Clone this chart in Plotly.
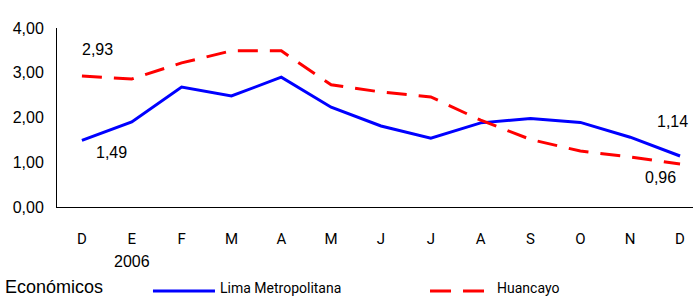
import plotly.graph_objects as go

months = ["D", "E", "F", "M", "A", "M", "J", "J", "A", "S", "O", "N", "D"]
year_label = "2006"
lima = [1.49, 1.90, 2.68, 2.48, 2.90, 2.23, 1.81, 1.54, 1.88, 1.98, 1.89, 1.56, 1.14]
huancayo = [2.93, 2.86, 3.22, 3.49, 3.49, 2.73, 2.57, 2.46, 1.94, 1.51, 1.25, 1.12, 0.96]
series_names = ["Lima Metropolitana", "Huancayo"]
y_ticks = [0, 1, 2, 3, 4]
caption = "Económicos"

x = list(range(len(months)))
ARIAL = "Liberation Sans, Arial, sans-serif"
NARROW = "Roboto, sans-serif"

fig = go.Figure()
fig.add_trace(go.Scatter(x=x, y=lima, mode="lines", name=series_names[0],
                         line=dict(color="#0000FF", width=3), showlegend=False))
fig.add_trace(go.Scatter(x=x, y=huancayo, mode="lines", name=series_names[1],
                         line=dict(color="#FF0000", width=3, dash="20px,12px"), showlegend=False))

def fmt(v):
    return f"{v:.2f}".replace(".", ",")

lab_font = dict(family=ARIAL, size=16, color="#000")
anns = [
    dict(x=x[0], y=huancayo[0], text=fmt(huancayo[0]), xshift=16, yshift=26),
    dict(x=x[0], y=lima[0], text=fmt(lima[0]), xshift=30, yshift=-12),
    dict(x=x[-1], y=lima[-1], text=fmt(lima[-1]), xshift=-8, yshift=34),
    dict(x=x[-1], y=huancayo[-1], text=fmt(huancayo[-1]), xshift=-20, yshift=-13),
]
for a in anns:
    fig.add_annotation(xref="x", yref="y", showarrow=False, font=lab_font,
                       xanchor="center", yanchor="middle", **a)

fig.add_annotation(xref="x", yref="paper", x=1, y=-0.305, text=year_label,
                   showarrow=False, font=dict(family=ARIAL, size=16, color="#000"),
                   xanchor="center", yanchor="middle")
fig.add_annotation(xref="paper", yref="paper", x=-0.0849, y=-0.445, text=caption,
                   showarrow=False, font=dict(family=ARIAL, size=18, color="#000"),
                   xanchor="left", yanchor="middle")

# legend (drawn manually)
leg_y = -0.4693
fig.add_shape(type="line", xref="paper", yref="paper", x0=0.1509, x1=0.2484,
              y0=leg_y, y1=leg_y, line=dict(color="#0000FF", width=3))
fig.add_shape(type="line", xref="paper", yref="paper", x0=0.5865, x1=0.6730,
              y0=leg_y, y1=leg_y, line=dict(color="#FF0000", width=3, dash="21px,12px"))
fig.add_annotation(xref="paper", yref="paper", x=0.2531, y=-0.45, text=series_names[0],
                   showarrow=False, font=dict(family=NARROW, size=14, color="#000"),
                   xanchor="left", yanchor="middle")
fig.add_annotation(xref="paper", yref="paper", x=0.6887, y=-0.45, text=series_names[1],
                   showarrow=False, font=dict(family=NARROW, size=14, color="#000"),
                   xanchor="left", yanchor="middle")

fig.update_layout(
    width=693, height=296,
    margin=dict(l=57, r=0, t=28, b=89),
    paper_bgcolor="white", plot_bgcolor="white",
    separators=",.",
    xaxis=dict(range=[-0.5, 12.26], tickmode="array", tickvals=x, ticktext=months,
               showgrid=False, zeroline=False, showline=True, linecolor="#000", linewidth=1,
               ticks="", ticklabelstandoff=18,
               tickfont=dict(family=NARROW, size=15, color="#000")),
    yaxis=dict(range=[0, 4], tickvals=y_ticks, tickformat=".2f",
               showgrid=False, zeroline=False, showline=True, linecolor="#000", linewidth=1,
               ticks="", ticklabelstandoff=9,
               tickfont=dict(family=ARIAL, size=16, color="#000")),
)

fig.write_html("out.html", config={"displayModeBar": False},
               post_script="document.body.style.margin='0';document.body.style.overflow='hidden';")
